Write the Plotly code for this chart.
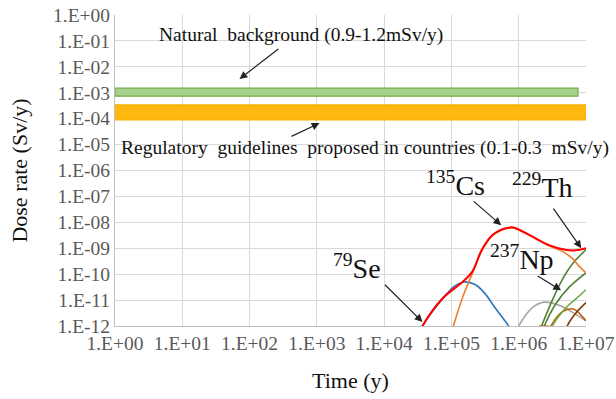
import plotly.graph_objects as go

# tick labels
x_tick_exp = [0, 1, 2, 3, 4, 5, 6, 7]
x_tick_labels = ["1.E+00", "1.E+01", "1.E+02", "1.E+03", "1.E+04", "1.E+05", "1.E+06", "1.E+07"]
y_tick_exp = [0, -1, -2, -3, -4, -5, -6, -7, -8, -9, -10, -11, -12]
y_tick_labels = ["1.E+00", "1.E-01", "1.E-02", "1.E-03", "1.E-04", "1.E-05", "1.E-06",
                 "1.E-07", "1.E-08", "1.E-09", "1.E-10", "1.E-11", "1.E-12"]

# reference bands (Sv/y)
natural_x = [1, 7.6e6]
natural_y = [7.4e-4, 1.5e-3]
regulatory_x = [0.95, 1e7]
regulatory_y = [8.9e-5, 3.4e-4]

# curves: log10(time), log10(dose)
total_lx = [4.52, 4.57, 4.87, 5.16, 5.31, 5.45, 5.61, 5.82, 5.92, 6.16, 6.45, 6.71, 6.85, 7.0]
total_ly = [-12.3, -12.0, -10.93, -10.31, -9.9, -9.07, -8.49, -8.22, -8.2, -8.49, -8.88, -9.07, -9.08, -9.0]
se79_lx = [4.52, 4.57, 4.87, 5.05, 5.19, 5.35, 5.5, 5.64, 5.78, 5.85, 5.9]
se79_ly = [-12.3, -12.0, -10.95, -10.45, -10.3, -10.4, -10.75, -11.27, -11.75, -12.0, -12.3]
cs135_lx = [5.0, 5.03, 5.19, 5.31, 5.45, 5.61, 5.82, 5.92, 6.16, 6.45, 6.65, 6.8, 6.9, 7.0]
cs135_ly = [-12.3, -12.0, -10.73, -9.98, -9.1, -8.51, -8.24, -8.22, -8.5, -8.9, -9.12, -9.4, -9.7, -9.95]
gray_lx = [5.95, 6.0, 6.2, 6.38, 6.6, 6.85, 7.0]
gray_ly = [-12.3, -12.0, -11.3, -11.08, -11.2, -11.55, -11.8]
th_a_lx = [6.3, 6.34, 6.5, 6.65, 6.8, 7.0]
th_a_ly = [-12.3, -12.0, -11.0, -10.2, -9.6, -9.05]
th_b_lx = [6.34, 6.38, 6.55, 6.75, 7.0]
th_b_ly = [-12.3, -12.0, -11.15, -10.5, -9.95]
th_c_lx = [6.46, 6.5, 6.7, 6.85, 7.0]
th_c_ly = [-12.3, -12.0, -11.3, -10.95, -10.6]
br_a_lx = [6.44, 6.48, 6.65, 6.82, 6.95, 7.0]
br_a_ly = [-12.3, -12.0, -11.45, -11.35, -11.65, -11.8]
br_b_lx = [6.68, 6.72, 6.85, 7.0]
br_b_ly = [-12.3, -12.0, -11.5, -11.1]
np_flat_lx = [6.3, 6.45]
np_flat_ly = [-12.0, -12.0]

fig = go.Figure()

def band(xs, ys, fill, line):
    fig.add_trace(go.Scatter(
        x=[xs[0], xs[1], xs[1], xs[0], xs[0]],
        y=[ys[0], ys[0], ys[1], ys[1], ys[0]],
        fill="toself", fillcolor=fill, mode="lines",
        line=dict(color=line, width=1.2), hoverinfo="skip", showlegend=False))

band(natural_x, natural_y, "#a9d18e", "#70ad47")
band(regulatory_x, regulatory_y, "#ffb80f", "#f5b000")

def curve(lx, ly, color, width=1.6):
    fig.add_trace(go.Scatter(
        x=[10 ** v for v in lx], y=[10 ** v for v in ly], mode="lines",
        line=dict(color=color, width=width, shape="spline", smoothing=1.0),
        showlegend=False))

curve(np_flat_lx, np_flat_ly, "#ed7d31")
curve(gray_lx, gray_ly, "#a5a5a5")
curve(br_a_lx, br_a_ly, "#c55a11")
curve(br_b_lx, br_b_ly, "#843c0c")
curve(th_c_lx, th_c_ly, "#70ad47")
curve(th_b_lx, th_b_ly, "#548235")
curve(th_a_lx, th_a_ly, "#548235")
curve(se79_lx, se79_ly, "#2e75b6")
curve(cs135_lx, cs135_ly, "#ed7d31")
curve(total_lx, total_ly, "#ff0000", 2.0)

serif = "Liberation Serif, Times New Roman, serif"

texts = [
    (2.77, -0.77, "Natural  background (0.9-1.2mSv/y)", 19.5),
    (3.71, -5.14, "Regulatory  guidelines  proposed in countries (0.1-0.3  mSv/y)", 19.5),
    (3.59, -9.69, "<sup>79</sup>Se", 28),
    (5.06, -6.49, "<sup>135</sup>Cs", 28),
    (6.36, -6.56, "<sup>229</sup>Th", 28),
    (6.05, -9.34, "<sup>237</sup>Np", 28),
]
for tx, ty, t, s in texts:
    fig.add_annotation(x=tx, y=ty, xref="x", yref="y", text=t, showarrow=False,
                       font=dict(family=serif, size=s, color="#111111"))

arrows = [
    (2.45, -1.27, 1.85, -2.47),
    (2.60, -4.71, 3.04, -4.17),
    (3.99, -10.35, 4.57, -11.85),
    (5.31, -7.14, 5.74, -8.11),
    (6.50, -7.41, 6.93, -9.0),
    (6.26, -10.04, 6.63, -10.62),
]
for x0, y0, x1, y1 in arrows:
    fig.add_annotation(x=x1, y=y1, ax=x0, ay=y0, xref="x", yref="y", axref="x", ayref="y",
                       text="", showarrow=True, arrowhead=2, arrowsize=1.3, arrowwidth=1.2,
                       arrowcolor="#222222")

fig.update_xaxes(type="log", range=[0, 7], automargin=False,
                 tickvals=[10 ** e for e in x_tick_exp], ticktext=x_tick_labels,
                 showgrid=True, gridcolor="#d9d9d9", gridwidth=1,
                 showline=True, linecolor="#bfbfbf", zeroline=False, ticks="",
                 tickfont=dict(family=serif, size=19.5, color="#595959"),
                 title=dict(text="Time (y)", font=dict(family=serif, size=22, color="#111111"),
                            standoff=19))
fig.update_yaxes(type="log", range=[-12, 0], automargin=False,
                 tickvals=[10 ** e for e in y_tick_exp], ticktext=y_tick_labels,
                 showgrid=True, gridcolor="#d9d9d9", gridwidth=1,
                 showline=True, linecolor="#bfbfbf", zeroline=False, ticks="",
                 tickfont=dict(family=serif, size=19.5, color="#595959"),
                 title=dict(text="Dose rate (Sv/y)", font=dict(family=serif, size=22, color="#111111"),
                            standoff=19))

fig.update_layout(width=616, height=399, margin=dict(l=115, r=30, t=15, b=73),
                  plot_bgcolor="white", paper_bgcolor="white", showlegend=False)

fig.write_html("out.html", config={"displayModeBar": False},
               post_script="document.body.style.margin='0';")
